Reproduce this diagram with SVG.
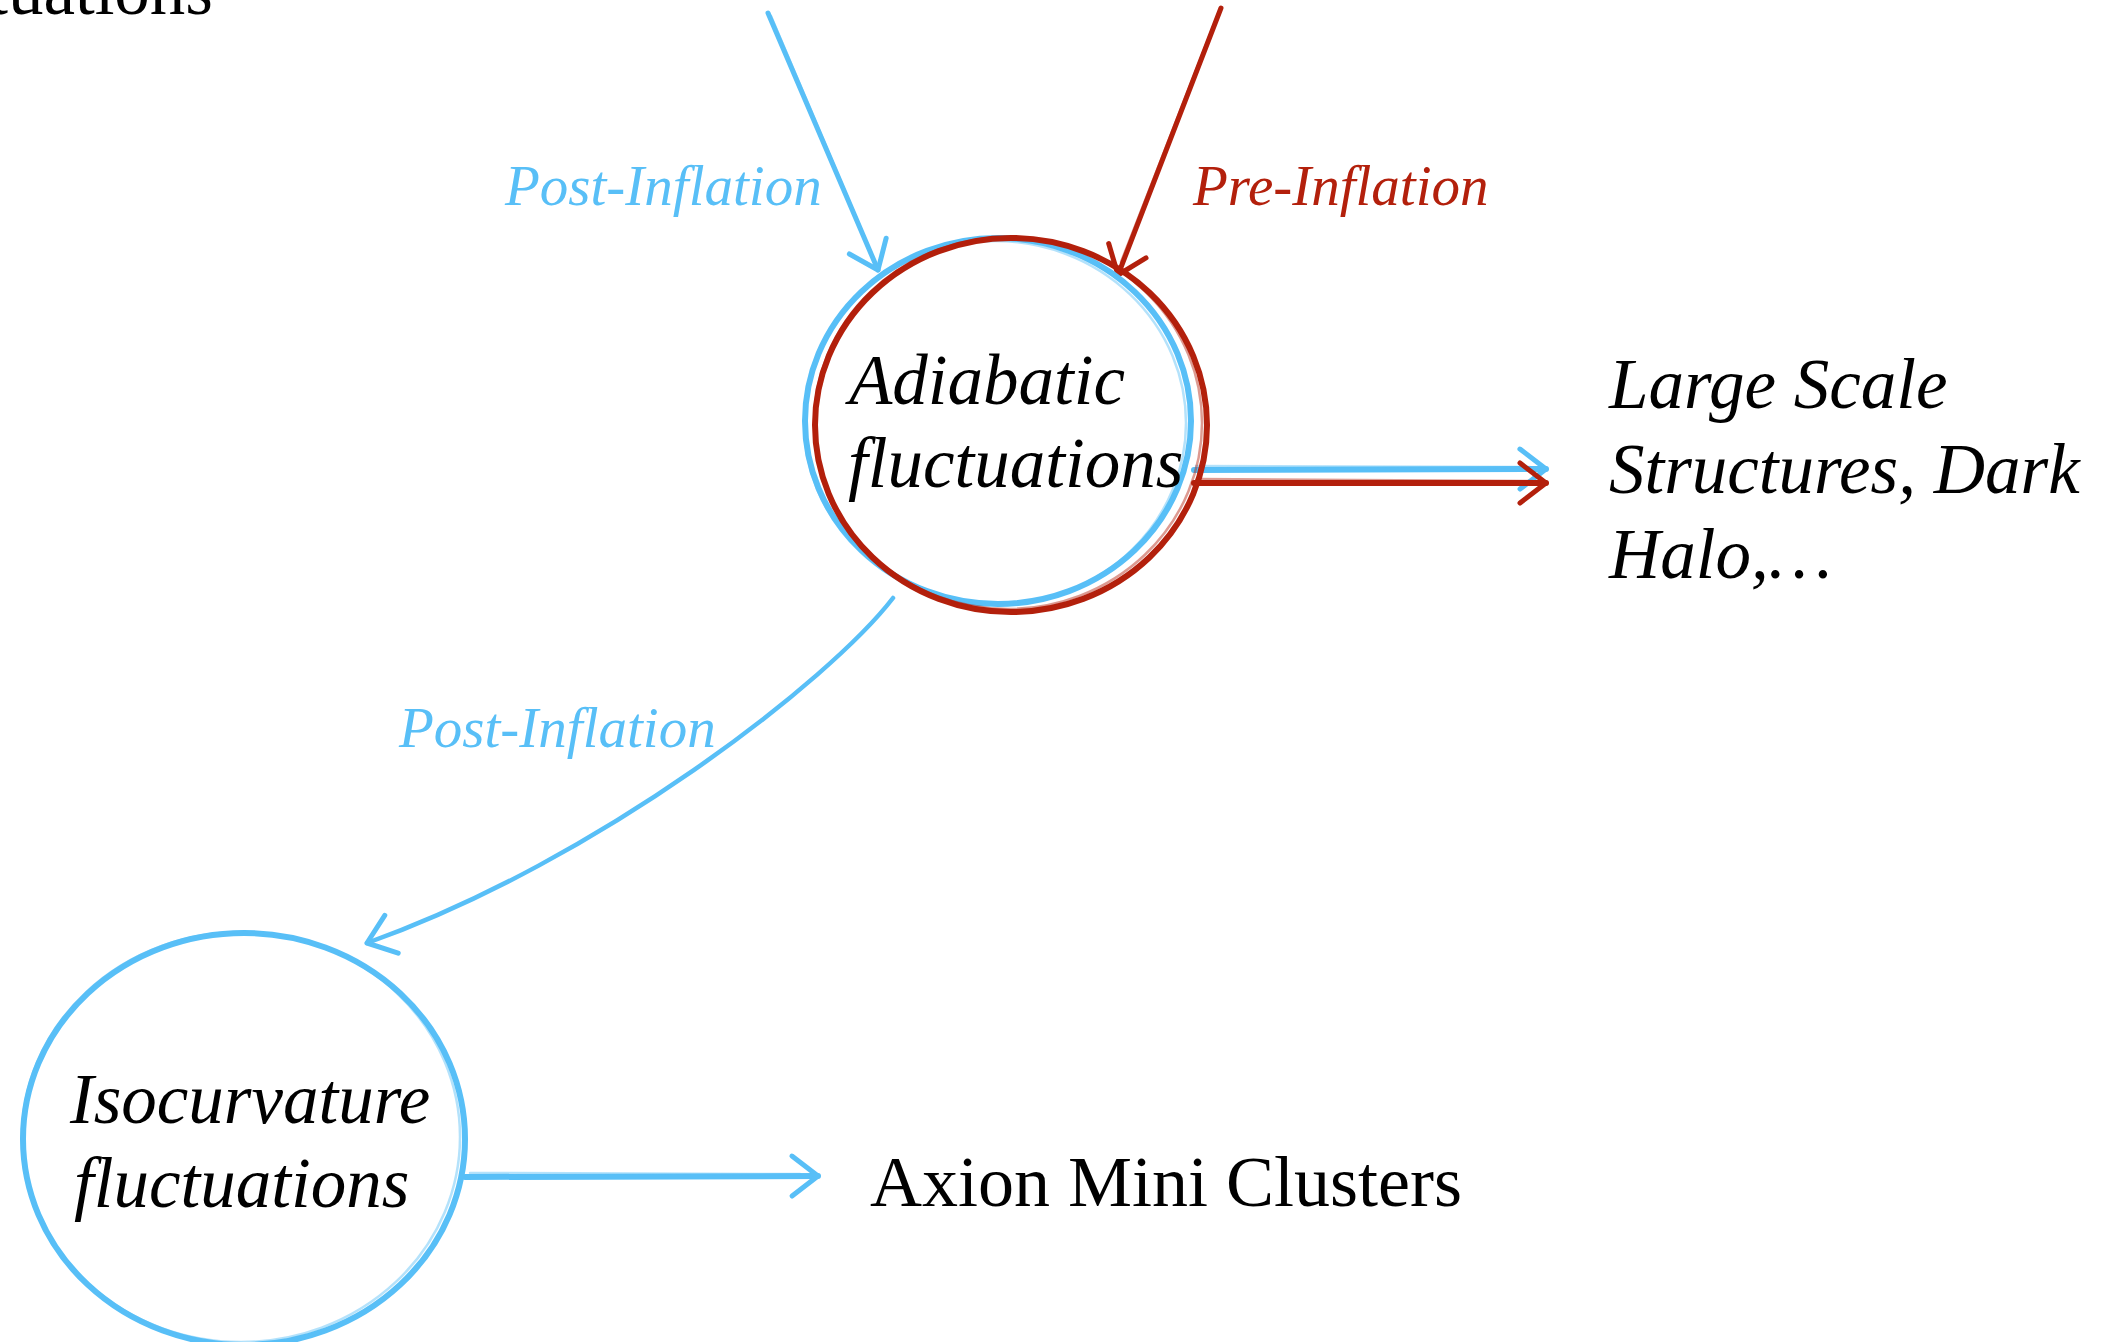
<svg xmlns="http://www.w3.org/2000/svg" width="2111" height="1342" viewBox="0 0 2111 1342">
  <style>
    .txt { font-family: "Liberation Serif", "Times New Roman", serif; fill: #000; }
    .it { font-style: italic; }
    .node { font-size: 71px; }
    .lbl { font-size: 57px; font-style: italic; }
    .blue { stroke: #58BFF7; fill: none; stroke-linecap: round; stroke-linejoin: round; }
    .red { stroke: #B3200C; fill: none; stroke-linecap: round; stroke-linejoin: round; }
    .sk { stroke-opacity: 0.45; }
  </style>
  <defs>
    <marker id="ahB" markerUnits="userSpaceOnUse" markerWidth="60" markerHeight="60" refX="0" refY="0" viewBox="-40 -30 50 60" orient="auto">
      <path d="M -26,-20 L 0,0 L -26,20" fill="none" stroke="#58BFF7" stroke-width="5" stroke-linecap="round" stroke-linejoin="round"/>
    </marker>
    <marker id="ahR" markerUnits="userSpaceOnUse" markerWidth="60" markerHeight="60" refX="0" refY="0" viewBox="-40 -30 50 60" orient="auto">
      <path d="M -26,-20 L 0,0 L -26,20" fill="none" stroke="#B3200C" stroke-width="5" stroke-linecap="round" stroke-linejoin="round"/>
    </marker>
  </defs>
  <rect width="2111" height="1342" fill="#fff"/>

  <text class="txt node" x="213" y="14" text-anchor="end">fluctuations</text>

  <g id="connectors">
    <g id="edge-top-blue">
      <path class="blue" d="M 768,13 L 878,270" stroke-width="5" marker-end="url(#ahB)"/>
      <path class="blue sk" d="M 771,16 L 875,262" stroke-width="2.5"/>
    </g>
    <g id="edge-top-red">
      <path class="red" d="M 1221,8 L 1118,275" stroke-width="5" marker-end="url(#ahR)"/>
      <path class="red sk" d="M 1218,14 L 1121,262" stroke-width="2.5"/>
    </g>
    <g id="edge-adiabatic-lss">
      <path class="blue" d="M 1194,470 L 1546,469" stroke-width="6" marker-end="url(#ahB)"/>
      <path class="blue sk" d="M 1196,466 L 1530,467" stroke-width="2.5"/>
      <path class="red" d="M 1194,483 L 1546,483" stroke-width="6" marker-end="url(#ahR)"/>
      <path class="red sk" d="M 1198,479 L 1532,481" stroke-width="2.5"/>
    </g>
    <g id="edge-adiabatic-iso">
      <path class="blue" d="M 893,598 C 830,680 600,860 367,943" stroke-width="4.5" marker-end="url(#ahB)"/>
    </g>
    <g id="edge-iso-axion">
      <path class="blue" d="M 465,1177 L 818,1176" stroke-width="6" marker-end="url(#ahB)"/>
      <path class="blue sk" d="M 470,1173 L 800,1174" stroke-width="2.5"/>
    </g>
    <text class="txt lbl" x="505" y="205" style="fill:#58BFF7">Post-Inflation</text>
    <text class="txt lbl" x="1193" y="205" style="fill:#B3200C">Pre-Inflation</text>
    <text class="txt lbl" x="399" y="747" style="fill:#58BFF7">Post-Inflation</text>
  </g>

  <g id="node-adiabatic">
    <ellipse class="blue" cx="998" cy="421" rx="193" ry="183" stroke-width="6"/>
    <ellipse class="blue sk" cx="995" cy="423" rx="191" ry="182" stroke-width="2.5"/>
    <ellipse class="red" cx="1011" cy="425" rx="196" ry="187" stroke-width="6"/>
    <ellipse class="red sk" cx="1008" cy="423" rx="194" ry="186" stroke-width="2.5"/>
    <text class="txt it node" x="849" y="404">Adiabatic</text>
    <text class="txt it node" x="848" y="487">fluctuations</text>
  </g>

  <g id="node-isocurvature">
    <ellipse class="blue" cx="244" cy="1139" rx="221" ry="206" stroke-width="6"/>
    <ellipse class="blue sk" cx="241" cy="1137" rx="219" ry="205" stroke-width="2.5"/>
    <text class="txt it node" x="70" y="1123">Isocurvature</text>
    <text class="txt it node" x="74" y="1207">fluctuations</text>
  </g>

  <g id="node-lss">
    <text class="txt it node" x="1609" y="408">Large Scale</text>
    <text class="txt it node" x="1609" y="493">Structures, Dark</text>
    <text class="txt it node" x="1609" y="578">Halo,…</text>
  </g>

  <g id="node-axion">
    <text class="txt node" x="870" y="1206" style="font-size:72px">Axion Mini Clusters</text>
  </g>
</svg>
